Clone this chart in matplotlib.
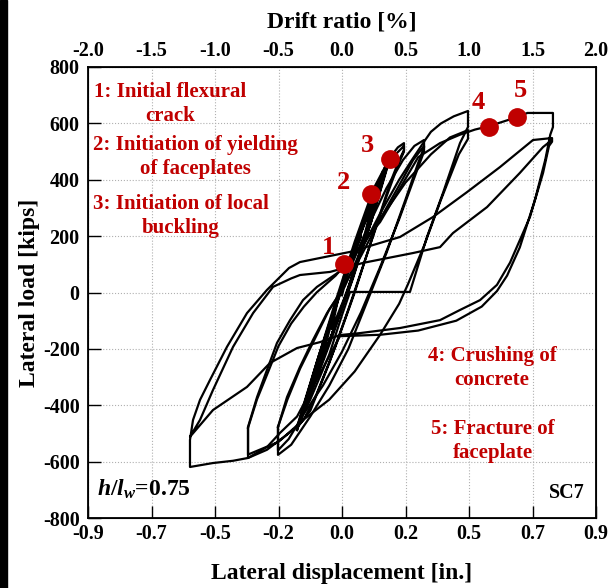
import numpy as np
import matplotlib.pyplot as plt
from matplotlib.patches import Rectangle

plt.rcParams['font.family'] = 'Liberation Serif'
plt.rcParams['font.weight'] = 'bold'
plt.rcParams['axes.labelweight'] = 'bold'
plt.rcParams['axes.unicode_minus'] = False
plt.rcParams['mathtext.fontset'] = 'custom'
plt.rcParams['mathtext.it'] = 'Liberation Serif:italic:bold'
plt.rcParams['mathtext.rm'] = 'Liberation Serif:bold'

RED = '#C00000'

# axis ticks
drift_ticks = [-2.0, -1.5, -1.0, -0.5, 0.0, 0.5, 1.0, 1.5, 2.0]
disp_labels = ['-0.9', '-0.7', '-0.5', '-0.2', '0.0', '0.2', '0.5', '0.7', '0.9']
load_ticks = [-800, -600, -400, -200, 0, 200, 400, 600, 800]

# hysteresis, drift ratio [%] / lateral load [kips]
elastic_drift = [0.00, 0.05, 0.15, 0.072, 0.005, -0.043, -0.08, 0.02, 0.11, 0.18, 0.24,
                 0.117, 0.005, -0.088, -0.17, -0.027, 0.105, 0.218, 0.32,
                 0.152, -0.005, -0.143, -0.27, -0.088, 0.085, 0.238, 0.38,
                 0.178, -0.015, -0.188, -0.35, -0.15, 0.04, 0.21, 0.37,
                 0.169, -0.022, -0.193, -0.354, -0.14, 0.06, 0.23, 0.36,
                 0.15, -0.04, -0.21, -0.33, -0.12, 0.07, 0.25, 0.39,
                 0.16, -0.03, -0.20, -0.354]
elastic_load = [-10, 80, 200, 118, 35, -48, -130, -18, 95, 208, 320,
                175, 30, -115, -260, -88, 85, 258, 430,
                225, 20, -185, -390, -171, 48, 266, 485,
                245, 5, -235, -475, -236, 3, 241, 480,
                238, -4, -246, -488, -220, 20, 250, 470,
                230, -30, -270, -460, -200, 40, 280, 495,
                250, -10, -250, -488]

stage1_drift = [-0.354, -0.30, -0.2, -0.05, 0.10, 0.25, 0.38, 0.44, 0.488, 0.488,
                0.45, 0.38, 0.25, 0.10, -0.05, -0.2, -0.30, -0.354,
                -0.29, -0.18, -0.03, 0.12, 0.27, 0.40, 0.488, 0.488,
                0.44, 0.35, 0.20, 0.05, -0.10, -0.25, -0.354]
stage1_load = [-488, -400, -250, -30, 180, 370, 480, 515, 530, 505,
               470, 390, 210, 0, -190, -360, -450, -477,
               -380, -220, -20, 190, 370, 480, 520, 500,
               450, 340, 140, -60, -250, -420, -480]

stage2_drift = [-0.354, -0.25, -0.10, 0.05, 0.2, 0.35, 0.48, 0.57, 0.646, 0.646,
                0.60, 0.50, 0.35, 0.20, 0.05, -0.1, -0.25, -0.40, -0.504, -0.504,
                -0.433, -0.331, -0.228, -0.118, -0.016, 0.15, 0.30, 0.45, 0.56, 0.646, 0.646,
                0.58, 0.45, 0.30, 0.15, 0.0, -0.15, -0.30, -0.42, -0.504, -0.504]
stage2_load = [-480, -330, -110, 70, 230, 370, 470, 520, 541, 515,
               460, 330, 140, -30, -200, -330, -440, -540, -576, -477,
               -371, -264, -168, -73, -2, 130, 260, 380, 470, 520, 500,
               420, 260, 90, -70, -210, -330, -430, -520, -560, -477]

stage3_drift = [-0.504, -0.43, -0.33, -0.22, -0.1, 0.02, 0.15, 0.30, 0.45, 0.55, 0.646,
                0.70, 0.78, 0.88, 0.992, 0.992,
                0.929, 0.795, 0.669, 0.535, 0.063, 0.0, -0.1, -0.25, -0.354,
                -0.488, -0.591, -0.74, -0.74,
                -0.669, -0.591, -0.512, -0.409, -0.307, -0.197, -0.118, 0.0, 0.15,
                0.30, 0.50, 0.70, 0.85, 0.992, 0.992,
                0.92, 0.78, 0.65, 0.52, 0.45, 0.30, 0.10, -0.10, -0.30, -0.50, -0.74, -0.74]
stage3_load = [-477, -380, -270, -170, -60, 20, 150, 280, 400, 470, 535,
               570, 600, 625, 644, 587,
               530, 353, 197, 2, 2, -80, -220, -380, -477,
               -523, -558, -587, -477,
               -371, -275, -179, -98, -27, 20, 44, 80, 160,
               260, 390, 490, 550, 576, 545,
               490, 330, 170, 30, -40, -150, -280, -380, -450, -530, -575, -480]

stage4_drift = [-0.74, -0.67, -0.58, -0.50, -0.40, -0.30, -0.2, -0.05, 0.1, 0.3, 0.6,
                0.772, 0.93, 1.047, 1.157, 1.26, 1.378, 1.46, 1.661, 1.661, 1.64,
                1.60, 1.52, 1.40, 1.30, 1.22, 1.10, 0.90, 0.60, 0.30, -0.016,
                -0.354, -0.488, -0.59, -0.74, -0.858, -1.016, -1.197, -1.197,
                -1.173, -1.118, -1.039, -0.906, -0.748, -0.591, -0.417, -0.331,
                0.063, 0.457, 0.717, 0.984, 1.244, 1.504, 1.654, 1.654,
                1.63, 1.583, 1.48, 1.323, 1.22, 1.087, 0.929, 0.772, 0.457, 0.142,
                -0.016, -0.173, -0.354, -0.567, -0.748, -1.016, -1.197,
                -1.118, -1.016, -0.858, -0.70, -0.543, -0.40, -0.331, -0.094, 0.165,
                0.559, 0.772, 0.874, 1.142, 1.40, 1.583, 1.65]
stage4_load = [-480, -380, -280, -190, -110, -50, 0, 60, 140, 250, 480,
               530, 560, 578, 590, 605, 622, 637, 637, 587, 560,
               470, 330, 160, 60, 5, -50, -100, -135, -150, -155,
               -440, -498, -548, -587, -597, -605, -619, -523,
               -452, -381, -310, -193, -73, 9, 87, 108,
               144, 197, 268, 356, 445, 541, 548, 535,
               520, 424, 268, 106, 27, -27, -62, -98, -126, -144,
               -151, -176, -197, -250, -335, -417, -512,
               -452, -346, -193, -73, 20, 50, 62, 73, 105,
               140, 161, 211, 303, 424, 516, 540]

# milestone markers
event_drift = [0.016, 0.228, 0.378, 1.157, 1.378]
event_load = [101, 349, 473, 587, 622]
event_tags = ['1', '2', '3', '4', '5']
tag_drift = [-0.11, 0.008, 0.197, 1.071, 1.402]
tag_load = [161, 391, 523, 675, 718]

fig = plt.figure(figsize=(6.1, 5.88), dpi=100)
ax = fig.add_axes([88/610, 70/588, 508/610, 451/588])

for d, l in [(elastic_drift, elastic_load), (stage1_drift, stage1_load),
             (stage2_drift, stage2_load), (stage3_drift, stage3_load),
             (stage4_drift, stage4_load)]:
    ax.plot(d, l, color='black', lw=1.6, solid_joinstyle='round')

ax.plot(event_drift, event_load, 'o', color=RED, ms=12.5, zorder=5)
for t, x, y in zip(event_tags, tag_drift, tag_load):
    ax.text(x, y, t, color=RED, fontsize=19, ha='center', va='center')

notes = [
    (-1.354, 670, '1: Initial flexural\ncrack'),
    (-1.157, 482, '2: Initiation of yielding\nof faceplates'),
    (-1.268, 271, '3: Initiation of local\nbuckling'),
    (1.181, -268, '4: Crushing of\nconcrete'),
    (1.189, -528, '5: Fracture of\nfaceplate'),
]
for x, y, s in notes:
    ax.text(x, y, s, color=RED, fontsize=15, ha='center', va='center',
            multialignment='center', linespacing=1.25)

ax.text(-1.93, -700, r'$h/l_w$=0.75', fontsize=17, ha='left', va='center')
ax.text(1.913, -711, 'SC7', fontsize=14.5, ha='right', va='center')

ax.set_xlim(-2.0, 2.0)
ax.set_ylim(-800, 800)
ax.set_xticks(drift_ticks)
ax.set_xticklabels(disp_labels)
ax.set_yticks(load_ticks)
ax.grid(True, color='#b0b0b0', ls=':', lw=0.8)
ax.tick_params(axis='both', direction='in', length=9, width=1, labelsize=14.5, pad=4)
ax.tick_params(axis='y', pad=6)
for s in ax.spines.values():
    s.set_linewidth(1.3)
ax.set_xlabel('Lateral displacement [in.]', fontsize=17, labelpad=14)
ax.set_ylabel('Lateral load [kips]', fontsize=17, labelpad=2)

top = ax.twiny()
top.set_xlim(-2.0, 2.0)
top.set_xticks(drift_ticks)
top.set_xticklabels(['%.1f' % v for v in drift_ticks])
top.tick_params(axis='x', direction='in', length=0, labelsize=14.5, pad=4)
top.set_xlabel('Drift ratio [%]', fontsize=17, labelpad=10)

fig.patches.append(Rectangle((0, 0), 7/610, 1, transform=fig.transFigure,
                             color='black', zorder=10))

fig.savefig('out.png', dpi=100)
